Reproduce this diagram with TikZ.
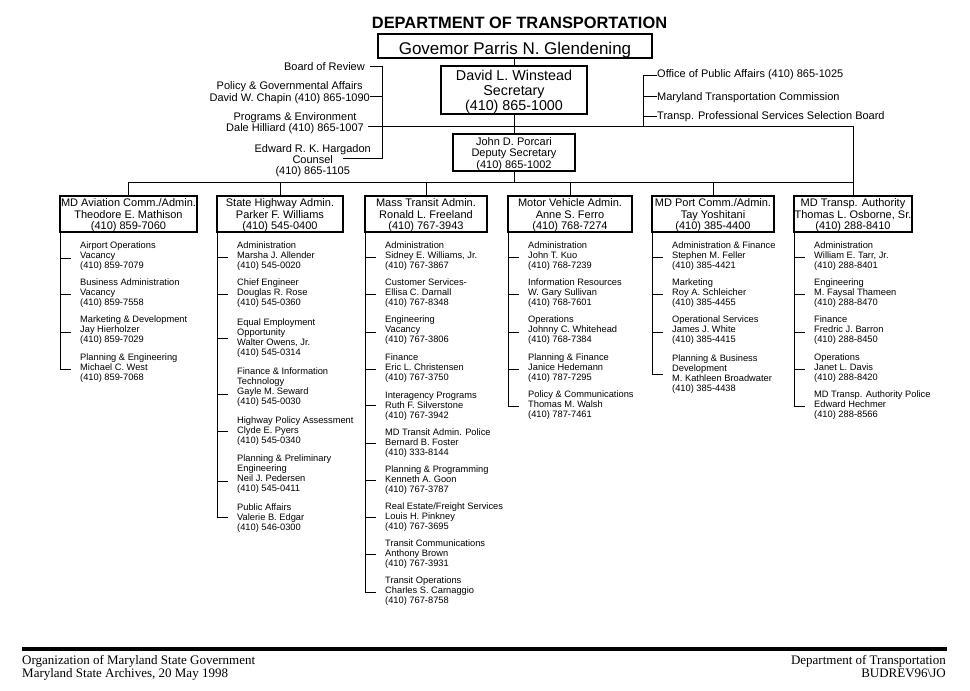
\documentclass[tikz,border=0pt]{standalone}
\usepackage{fontspec}
\setmainfont{Liberation Sans}
\newfontfamily\footfont{Liberation Serif}
\newcommand\oitem[5]{%
  \node[item] (#1) at ({#2+20},{-#3+3.65}) {\rule{0pt}{7pt}#5};
  \coordinate (#1t) at (#2,-#4);
  \draw[conn] (#1t) -- ([xshift=-9]#1t -| #1.west);
}
\begin{document}
\begin{tikzpicture}[x=1pt,y=1pt,
  conn/.style={line width=1pt},
  box/.style={draw, line width=2pt, outer sep=0pt, inner sep=0pt},
  colbox/.style={box, align=center, minimum height=36, font=\fontsize{11}{11.5}\selectfont},
  item/.style={inner sep=0pt, align=left, anchor=north west, font=\fontsize{9.3}{9.9}\selectfont},
  staff/.style={inner sep=0pt, font=\fontsize{11}{10}\selectfont},
  foot/.style={inner sep=0pt, font=\footfont\fontsize{13}{13}\selectfont},
]
\fill[white] (0,0) rectangle (970,-691);
\useasboundingbox (0,0) rectangle (970,-691);

% title and top boxes
\node[font=\bfseries\fontsize{16.4}{18}\selectfont, anchor=base, inner sep=0pt] (title) at (519.5,-28.9) {DEPARTMENT OF TRANSPORTATION};
\node[box, minimum width=274, text height=20.1pt, text depth=3.9pt, font=\fontsize{17}{19}\selectfont] (gov) at (515,-46) {Govemor Parris N. Glendening};
\node[box, align=center, minimum width=146, minimum height=48, font=\fontsize{14.3}{15}\selectfont] (sec) at (514,-90) {\rule{0pt}{13.2pt}David L. Winstead\\Secretary\\(410) 865-1000};
\node[box, align=center, minimum width=122, minimum height=37, font=\fontsize{11}{11.2}\selectfont] (dep) at (514,-152.5) {\rule{0pt}{11pt}John D. Porcari\\Deputy Secretary\\(410) 865-1002};

% administration boxes
\node[colbox, minimum width=137] (av) at (128.5,-214) {\rule{0pt}{11pt}MD Aviation Comm./Admin.\\Theodore E. Mathison\\(410) 859-7060};
\node[colbox, minimum width=126] (sh) at (280,-214) {\rule{0pt}{11pt}State Highway Admin.\\Parker F. Williams\\(410) 545-0400};
\node[colbox, minimum width=122] (mt) at (426,-214) {\rule{0pt}{11pt}Mass Transit Admin.\\Ronald L. Freeland\\(410) 767-3943};
\node[colbox, minimum width=124] (mv) at (570,-214) {\rule{0pt}{11pt}Motor Vehicle Admin.\\Anne S. Ferro\\(410) 768-7274};
\node[colbox, minimum width=122] (pt) at (713,-214) {\rule{0pt}{11pt}MD Port Comm./Admin.\\Tay Yoshitani\\(410) 385-4400};
\node[colbox, minimum width=118] (ta) at (853,-214) {\rule{0pt}{11pt}MD Transp. Authority\\Thomas L. Osborne, Sr.\\(410) 288-8410};

% main connectors
\draw[conn] (sec.north |- gov.south) -- (sec.north);
\draw[conn] (sec.south) -- (dep.north);
\coordinate (hL) at (368,-126);
\coordinate (hR) at (ta.north |- hL);
\draw[conn] (hL) -- (hR) -- (ta.north);
\coordinate (bL) at (av.north |- 0,-182);
\coordinate (bR) at (ta.north |- 0,-182);
\draw[conn] (bL) -- (bR);
\draw[conn] (dep.south) -- (dep.south |- bL);
\foreach \b in {av,sh,mt,mv,pt} \draw[conn] (\b.north) -- (\b.north |- bL);

% left staff
\node[staff, anchor=base east] (board) at (365,-70.5) {Board of Review};
\node[staff, anchor=north east, align=center] (policy) at (370,-81.3) {\rule{0pt}{8.4pt}Policy \& Governmental Affairs\\David W. Chapin (410) 865-1090};
\node[staff, anchor=north east, align=center] (progs) at (364,-111.6) {\rule{0pt}{8.4pt}Programs \& Environment\\Dale Hilliard (410) 865-1007};
\node[staff, anchor=north east, align=center, font=\fontsize{11}{11}\selectfont] (counsel) at (371,-143.6) {\rule{0pt}{8.4pt}Edward R. K. Hargadon\\Counsel\\(410) 865-1105};
\coordinate (lv1) at (382,-66);
\coordinate (lv2) at (382,-96);
\coordinate (lv3) at (382,-158);
\draw[conn] ([xshift=5pt]board.east |- lv1) -- (lv1) -- (lv3) -- ([xshift=-28pt]counsel.east |- lv3);
\draw[conn] (policy.east |- lv2) -- (lv2);

% right staff
\node[staff, anchor=base west] (opa) at (657,-77) {Office of Public Affairs (410) 865-1025};
\node[staff, anchor=base west] (mtc) at (657,-100) {Maryland Transportation Commission};
\node[staff, anchor=base west] (tpssb) at (657,-119.7) {Transp. Professional Services Selection Board};
\coordinate (rv1) at (643,-75);
\coordinate (rv2) at (643,-96);
\coordinate (rv3) at (643,-116);
\coordinate (rv4) at (643,-126);
\draw[conn] (opa.west |- rv1) -- (rv1) -- (rv4);
\draw[conn] (rv2) -- (mtc.west |- rv2);
\draw[conn] (rv3) -- (tpssb.west |- rv3);

% Aviation
\oitem{a1}{60}{245}{258}{Airport Operations\\Vacancy\\(410) 859-7079}
\oitem{a2}{60}{282}{294}{Business Administration\\Vacancy\\(410) 859-7558}
\oitem{a3}{60}{319}{332}{Marketing \& Development\\Jay Hierholzer\\(410) 859-7029}
\oitem{a4}{60}{357}{369}{Planning \& Engineering\\Michael C. West\\(410) 859-7068}
\draw[conn] (av.south west) -- (a4t);

% State Highway
\oitem{s1}{217}{245}{257}{Administration\\Marsha J. Allender\\(410) 545-0020}
\oitem{s2}{217}{282}{294}{Chief Engineer\\Douglas R. Rose\\(410) 545-0360}
\oitem{s3}{217}{322}{338}{Equal Employment\\Opportunity\\Walter Owens, Jr.\\(410) 545-0314}
\oitem{s4}{217}{371}{394}{Finance \& Information\\Technology\\Gayle M. Seward\\(410) 545-0030}
\oitem{s5}{217}{420}{431}{Highway Policy Assessment\\Clyde E. Pyers\\(410) 545-0340}
\oitem{s6}{217}{458}{481}{Planning \& Preliminary\\Engineering\\Neil J. Pedersen\\(410) 545-0411}
\oitem{s7}{217}{507}{517}{Public Affairs\\Valerie B. Edgar\\(410) 546-0300}
\draw[conn] (sh.south west) -- (s7t);

% Mass Transit
\oitem{m1}{365}{245}{257}{Administration\\Sidney E. Williams, Jr.\\(410) 767-3867}
\oitem{m2}{365}{282}{294}{Customer Services-\\Ellisa C. Darnall\\(410) 767-8348}
\oitem{m3}{365}{319}{332}{Engineering\\Vacancy\\(410) 767-3806}
\oitem{m4}{365}{357}{369}{Finance\\Eric L. Christensen\\(410) 767-3750}
\oitem{m5}{365}{395}{405}{Interagency Programs\\Ruth F. Silverstone\\(410) 767-3942}
\oitem{m6}{365}{432}{443}{MD Transit Admin. Police\\Bernard B. Foster\\(410) 333-8144}
\oitem{m7}{365}{469}{480}{Planning \& Programming\\Kenneth A. Goon\\(410) 767-3787}
\oitem{m8}{365}{506}{517}{Real Estate/Freight Services\\Louis H. Pinkney\\(410) 767-3695}
\oitem{m9}{365}{543}{554}{Transit Communications\\Anthony Brown\\(410) 767-3931}
\oitem{m10}{365}{580}{592}{Transit Operations\\Charles S. Carnaggio\\(410) 767-8758}
\draw[conn] (mt.south west) -- (m10t);

% Motor Vehicle
\oitem{v1}{508}{245}{257}{Administration\\John T. Kuo\\(410) 768-7239}
\oitem{v2}{508}{282}{294}{Information Resources\\W. Gary Sullivan\\(410) 768-7601}
\oitem{v3}{508}{319}{332}{Operations\\Johnny C. Whitehead\\(410) 768-7384}
\oitem{v4}{508}{357}{369}{Planning \& Finance\\Janice Hedemann\\(410) 787-7295}
\oitem{v5}{508}{394}{406}{Policy \& Communications\\Thomas M. Walsh\\(410) 787-7461}
\draw[conn] (mv.south west) -- (v5t);

% Port
\oitem{p1}{652}{245}{257}{Administration \& Finance\\Stephen M. Feller\\(410) 385-4421}
\oitem{p2}{652}{282}{294}{Marketing\\Roy A. Schleicher\\(410) 385-4455}
\oitem{p3}{652}{319}{332}{Operational Services\\James J. White\\(410) 385-4415}
\oitem{p4}{652}{358}{374}{Planning \& Business\\Development\\M. Kathleen Broadwater\\(410) 385-4438}
\draw[conn] (pt.south west) -- (p4t);

% Transportation Authority
\oitem{t1}{794}{245}{257}{Administration\\William E. Tarr, Jr.\\(410) 288-8401}
\oitem{t2}{794}{282}{294}{Engineering\\M. Faysal Thameen\\(410) 288-8470}
\oitem{t3}{794}{319}{332}{Finance\\Fredric J. Barron\\(410) 288-8450}
\oitem{t4}{794}{357}{369}{Operations\\Janet L. Davis\\(410) 288-8420}
\oitem{t5}{794}{394}{406}{MD Transp. Authority Police\\Edward Hechmer\\(410) 288-8566}
\draw[conn] (ta.south west) -- (t5t);

% footer
\coordinate (f1) at (22,-649);
\coordinate (f2) at (947,-649);
\draw[line width=3.5pt] (f1) -- (f2);
\node[foot, anchor=base west] (fl1) at (22,-664.3) {Organization of Maryland State Government};
\node[foot, anchor=base west] (fl2) at (22,-677.3) {Maryland State Archives, 20 May 1998};
\node[foot, anchor=base east] (fr1) at (946,-664.3) {Department of Transportation};
\node[foot, anchor=base east] (fr2) at (946,-677.3) {BUDREV96\textbackslash JO};
\end{tikzpicture}
\end{document}
